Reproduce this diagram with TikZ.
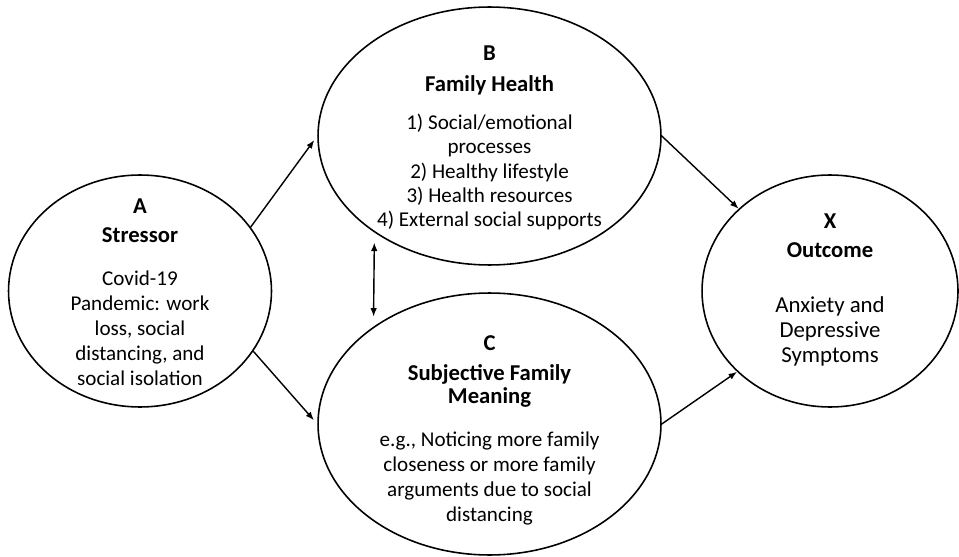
\documentclass[tikz,border=0pt]{standalone}
\usepackage{fontspec}
\setmainfont{Carlito}
\usetikzlibrary{shapes.geometric,arrows.meta}

\newcommand{\ttl}[1]{{\fontsize{12.9}{14.2}\selectfont\bfseries #1}}

\begin{document}
\begin{tikzpicture}[x=0.02cm, y=-0.02cm,
    oval/.style={draw, ellipse, line width=0.9pt},
    txt/.style={align=center, inner sep=0pt, font=\fontsize{12}{14.2}\selectfont},
    link/.style={-{Latex[length=1.7mm, width=1.3mm]}, line width=0.8pt},
    twoway/.style={{Latex[length=1.7mm, width=1.3mm]}-{Latex[length=1.7mm, width=1.3mm]}, line width=0.8pt}]

    \useasboundingbox (0,0) rectangle (959,557);

    % the four ovals
    \node[oval, minimum width=5.26cm, minimum height=4.64cm] (A) at (140,291) {};
    \node[oval, minimum width=6.86cm, minimum height=5.16cm] (B) at (489.5,136) {};
    \node[oval, minimum width=6.86cm, minimum height=5.24cm] (C) at (489.5,424) {};
    \node[oval, minimum width=5.12cm, minimum height=4.64cm] (X) at (830,291) {};

    % their texts
    \node[txt, yshift=-0.02cm] (Atxt) at (A) {\ttl{A}\\[2.2pt]\ttl{Stressor}\\[10.3pt]Covid-19\\Pandemic: work\\loss, social\\distancing, and\\social isolation};
    \node[txt, yshift=-0.04cm] (Btxt) at (B) {\ttl{B}\\[3.4pt]\ttl{Family Health}\\[7.4pt]1) Social/emotional\\[-0.4pt]processes\\[-0.4pt]2) Healthy lifestyle\\[-0.4pt]3) Health resources\\[-0.4pt]4) External social supports};
    \node[txt, yshift=-0.12cm] (Ctxt) at (C) {\ttl{C}\\[3pt]\ttl{Subjective Family}\\[-1pt]\ttl{Meaning}\\[10pt]e.g., Noticing more family\\closeness or more family\\arguments due to social\\distancing};
    \node[txt, font=\fontsize{13}{14.2}\selectfont, yshift=0.02cm] (Xtxt) at (X) {\ttl{X}\\[2.5pt]\ttl{Outcome}\\[17pt]Anxiety and\\Depressive\\Symptoms};

    % paths
    \draw[link, shorten >=0.1cm] (A.30) -- (B.west);
    \draw[link, shorten >=0.1cm] (A.-28) -- (C.west);
    \draw[link] (B.east) -- (X.138);
    \draw[link] (C.east) -- (X.221);
    \draw[twoway, shorten <=0.2cm, shorten >=0.2cm] (B.220) -- (C.140);
\end{tikzpicture}
\end{document}
